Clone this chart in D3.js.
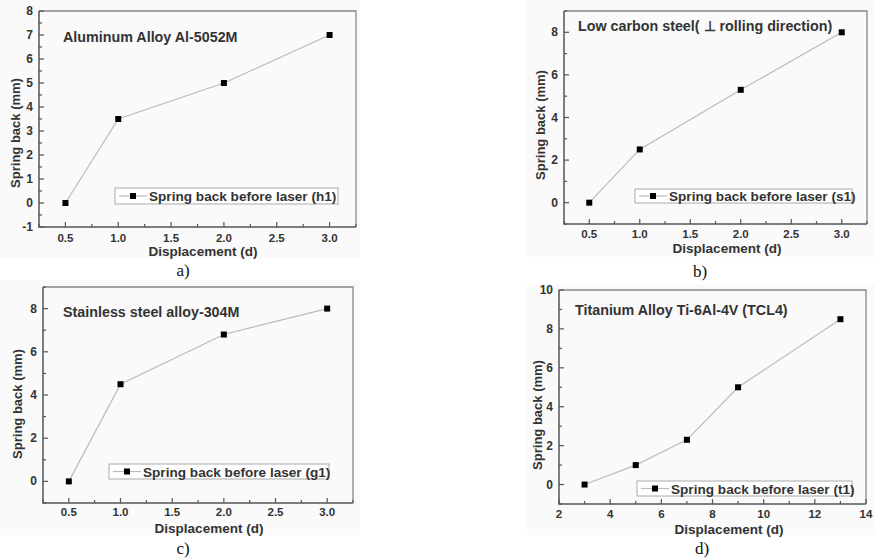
<!DOCTYPE html>
<html>
<head>
<meta charset="utf-8">
<script src="https://cdn.jsdelivr.net/npm/d3@7"></script>
<style>
  body { margin: 0; background: #fff; }
  svg { display: block; }
  text { font-family: "Liberation Sans", Arial, sans-serif; font-weight: bold; fill: #333; }
  .cap { font-family: "Liberation Serif", "Times New Roman", serif; font-weight: normal; fill: #111; }
</style>
</head>
<body>
<script>
// data
const dispA = [0.5, 1.0, 2.0, 3.0];
const springA = [0, 3.5, 5, 7];
const dispB = [0.5, 1.0, 2.0, 3.0];
const springB = [0, 2.5, 5.3, 8];
const dispC = [0.5, 1.0, 2.0, 3.0];
const springC = [0, 4.5, 6.8, 8];
const dispD = [3, 5, 7, 9, 13];
const springD = [0, 1, 2.3, 5, 8.5];

const xTicksSmall = [0.5, 1.0, 1.5, 2.0, 2.5, 3.0];
const xTicksD = [2, 4, 6, 8, 10, 12, 14];
const yTicksA = [-1, 0, 1, 2, 3, 4, 5, 6, 7, 8];
const yTicksBC = [0, 2, 4, 6, 8];
const yTicksD = [0, 2, 4, 6, 8, 10];

const titles = ["Aluminum Alloy Al-5052M", "Low carbon steel( \u22a5 rolling direction)",
                "Stainless steel alloy-304M", "Titanium Alloy Ti-6Al-4V (TCL4)"];
const legends = ["Spring back before laser (h1)", "Spring back before laser (s1)",
                 "Spring back before laser (g1)", "Spring back before laser (t1)"];
const captions = ["a)", "b)", "c)", "d)"];

const width = 875, height = 560;
const svg = d3.select("body").append("svg").attr("width", width).attr("height", height);

// layout of each panel (pixels)
const panels = [
  {x: dispA, y: springA, l: 39, r: 356, t: 11, b: 227, xd: [0.25, 3.25], yd: [-1, 8],
   xt: xTicksSmall, xm: 0.25, yt: yTicksA, ym: 0.5, fmt: d3.format(".1f"), tk: 15,
   bg: [0, 0, 360, 258], title: [63, 42], ytl: [15, 133], xtl: [203, 256], cap: [183, 276],
   leg: [115, 188, 338, 204]},
  {x: dispB, y: springB, l: 564, r: 867, t: 11, b: 224, xd: [0.25, 3.25], yd: [-1, 9],
   xt: xTicksSmall, xm: 0.25, yt: yTicksBC, ym: 1, fmt: d3.format(".1f"), tk: 13.5,
   bg: [527, 0, 875, 257], title: [578, 31], ytl: [540, 125], xtl: [727, 253], cap: [700, 277],
   leg: [635, 189, 852, 203]},
  {x: dispC, y: springC, l: 43, r: 353, t: 287, b: 503, xd: [0.25, 3.25], yd: [-1, 9],
   xt: xTicksSmall, xm: 0.25, yt: yTicksBC, ym: 1, fmt: d3.format(".1f"), tk: 13,
   bg: [0, 280, 360, 535], title: [63, 317], ytl: [17, 404], xtl: [209, 532.5], cap: [183, 554],
   leg: [109, 464, 329, 479]},
  {x: dispD, y: springD, l: 559, r: 866, t: 290, b: 504, xd: [2, 14], yd: [-1, 10],
   xt: xTicksD, xm: 1, yt: yTicksD, ym: 1, fmt: d3.format("d"), tk: 13.5,
   bg: [527, 284, 875, 535], title: [575, 315], ytl: [537, 415], xtl: [729, 534], cap: [702, 554],
   leg: [637, 481, 852, 496]}
];

panels.forEach((p, i) => drawPanel(p, i));

function drawPanel(p, i) {
  const g = svg.append("g");
  g.append("rect").attr("x", p.bg[0]).attr("y", p.bg[1])
    .attr("width", p.bg[2] - p.bg[0]).attr("height", p.bg[3] - p.bg[1])
    .attr("fill", "#fafafa");

  const x = d3.scaleLinear().domain(p.xd).range([p.l, p.r]);
  const y = d3.scaleLinear().domain(p.yd).range([p.b, p.t]);

  // frame (top/right lighter)
  g.append("path").attr("d", `M${p.l},${p.t}H${p.r}V${p.b}`)
    .attr("fill", "none").attr("stroke", "#888").attr("stroke-width", 1.3);

  // ticks pointing inward
  const xMinor = d3.range(p.xd[0], p.xd[1] + 1e-9, p.xm);
  const yMinor = d3.range(p.yd[0], p.yd[1] + 1e-9, p.ym);
  g.selectAll(".xmin").data(xMinor).join("line")
    .attr("x1", d => x(d)).attr("x2", d => x(d))
    .attr("y1", p.b).attr("y2", d => p.b - (p.xt.some(t => Math.abs(t - d) < 1e-9) ? 5 : 3))
    .attr("stroke", "#555").attr("stroke-width", 1.2);
  g.selectAll(".ymin").data(yMinor).join("line")
    .attr("y1", d => y(d)).attr("y2", d => y(d))
    .attr("x1", p.l).attr("x2", d => p.l + (p.yt.some(t => Math.abs(t - d) < 1e-9) ? 5 : 3))
    .attr("stroke", "#555").attr("stroke-width", 1.2);

  // left and bottom axis lines
  g.append("path").attr("d", `M${p.l},${p.t}V${p.b}H${p.r}`)
    .attr("fill", "none").attr("stroke", "#555").attr("stroke-width", 1.5);

  g.selectAll(".xl").data(p.xt).join("text")
    .attr("x", d => x(d)).attr("y", p.b + p.tk)
    .attr("text-anchor", "middle").style("font-size", "11.5px")
    .text(d => p.fmt(d));
  g.selectAll(".yl").data(p.yt).join("text")
    .attr("x", p.l - 6).attr("y", d => y(d) + 4)
    .attr("text-anchor", "end").style("font-size", "12px")
    .text(d => d);

  g.append("text").attr("x", p.xtl[0]).attr("y", p.xtl[1])
    .attr("text-anchor", "middle").style("font-size", "13.5px")
    .text("Displacement (d)");
  g.append("text")
    .attr("transform", `translate(${p.ytl[0] + 5},${p.ytl[1]}) rotate(-90)`)
    .attr("text-anchor", "middle").style("font-size", "13px")
    .text("Spring back (mm)");

  g.append("text").attr("x", p.title[0]).attr("y", p.title[1])
    .style("font-size", "14.3px").text(titles[i]);

  // series
  const pts = p.x.map((d, k) => [d, p.y[k]]);
  g.append("path").datum(pts)
    .attr("d", d3.line().x(d => x(d[0])).y(d => y(d[1])))
    .attr("fill", "none").attr("stroke", "#bbb").attr("stroke-width", 1.2);
  g.selectAll(".pt").data(pts).join("rect")
    .attr("x", d => x(d[0]) - 3).attr("y", d => y(d[1]) - 3)
    .attr("width", 6).attr("height", 6).attr("fill", "#000");

  // legend
  const L = p.leg;
  g.append("rect").attr("x", L[0]).attr("y", L[1])
    .attr("width", L[2] - L[0]).attr("height", L[3] - L[1])
    .attr("fill", "#fff").attr("stroke", "#aaa").attr("stroke-width", 1);
  const ly = (L[1] + L[3]) / 2;
  g.append("line").attr("x1", L[0] + 4).attr("x2", L[0] + 32)
    .attr("y1", ly).attr("y2", ly).attr("stroke", "#bbb").attr("stroke-width", 1.2);
  g.append("rect").attr("x", L[0] + 15).attr("y", ly - 3)
    .attr("width", 6).attr("height", 6).attr("fill", "#000");
  g.append("text").attr("x", L[0] + 34).attr("y", ly + 5)
    .style("font-size", "13.6px").text(legends[i]);

  svg.append("text").attr("class", "cap")
    .attr("x", p.cap[0]).attr("y", p.cap[1])
    .attr("text-anchor", "middle").style("font-size", "17px")
    .text(captions[i]);
}
</script>
</body>
</html>
